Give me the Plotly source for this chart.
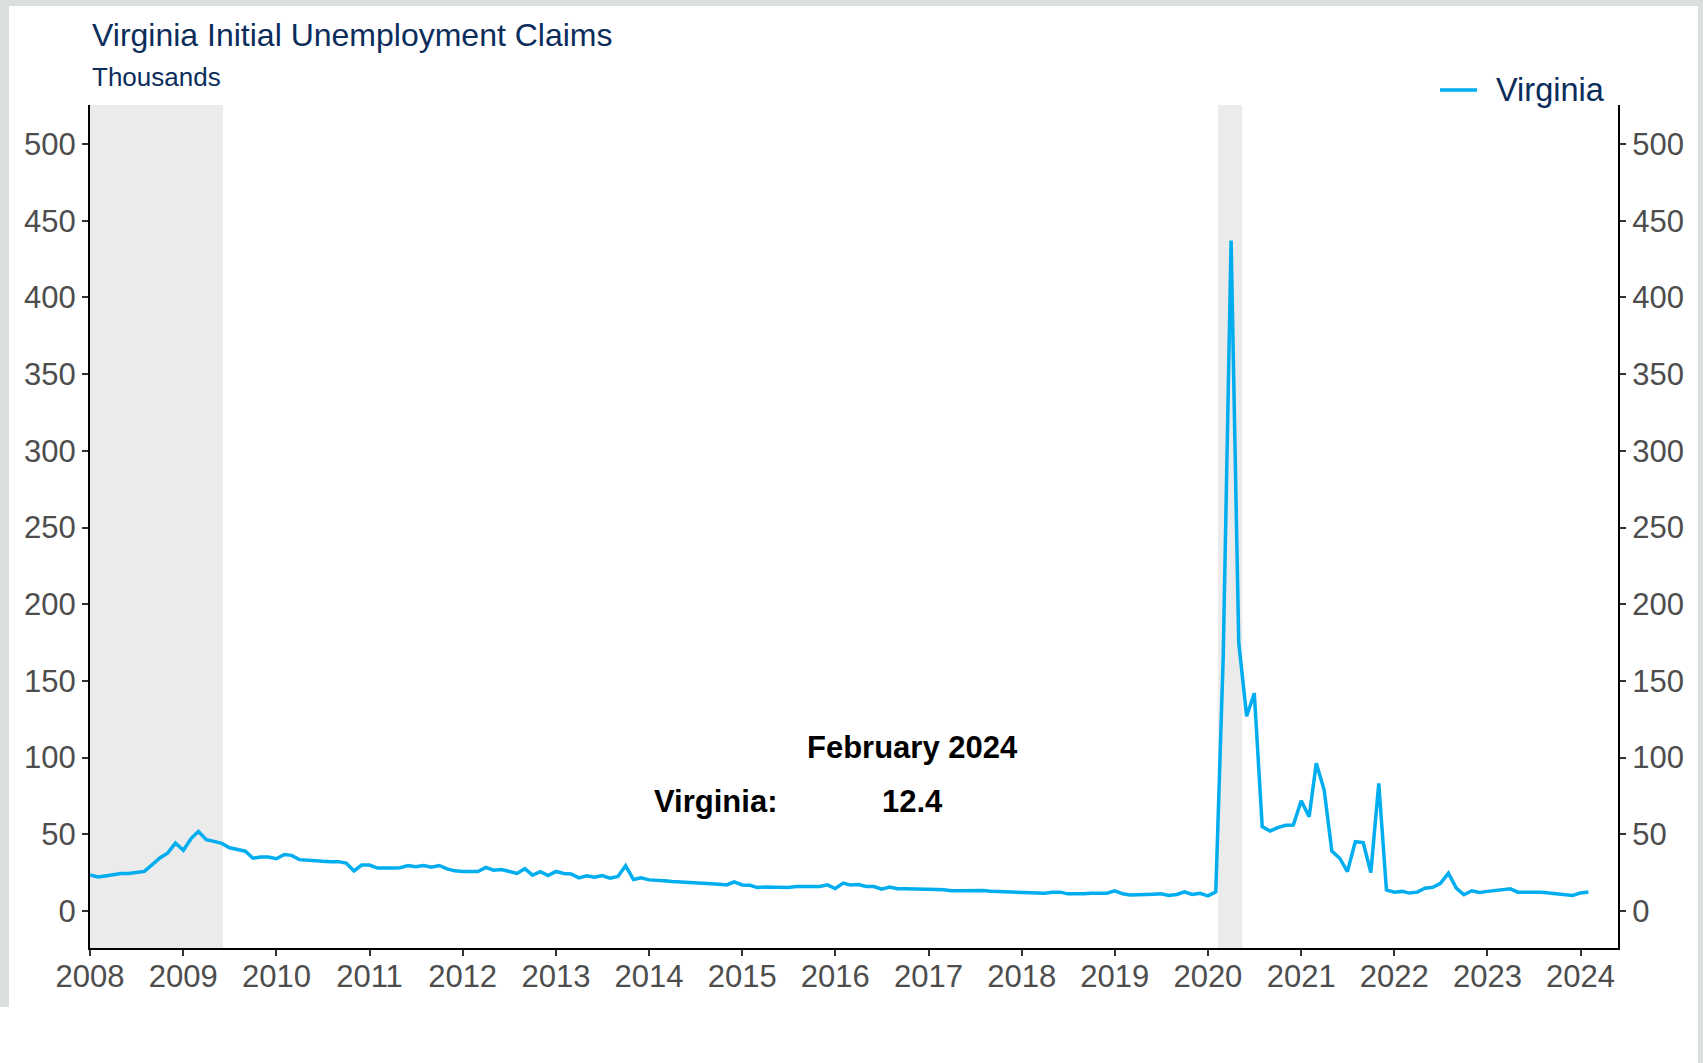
import pandas as pd
import plotly.graph_objects as go

# monthly initial claims, thousands (Jan 2008 - Feb 2024)
dates = pd.date_range("2008-01-01", periods=194, freq="MS")
virginia = [
    23.6, 22.2, 22.9, 23.8, 24.4, 24.4, 24.9, 25.8, 30.2, 34.6, 37.9, 44.3,   # 2008
    39.6, 47.4, 51.8, 46.5, 45.4, 44.1, 41.2, 39.9, 39.0, 34.4, 35.2, 35.2,   # 2009
    34.1, 36.8, 36.3, 33.5, 33.0, 32.8, 32.4, 32.2, 32.2, 31.3, 26.2, 30.0,   # 2010
    30.0, 28.0, 27.8, 28.0, 28.2, 29.7, 28.8, 29.7, 28.6, 29.7, 27.5, 26.2,   # 2011
    25.8, 25.8, 25.8, 28.4, 26.6, 27.1, 25.8, 24.5, 27.6, 23.4, 25.6, 23.1,   # 2012
    25.8, 24.5, 24.2, 21.6, 22.9, 22.0, 23.1, 21.4, 22.5, 29.5, 20.5, 21.6,   # 2013
    20.3, 19.7, 19.7, 19.2, 19.0, 18.8, 18.3, 18.1, 17.7, 17.4, 17.0, 19.0,   # 2014
    17.0, 16.8, 15.3, 15.7, 15.5, 15.3, 15.3, 16.0, 16.0, 16.0, 16.0, 17.1,   # 2015
    14.7, 18.2, 16.9, 17.3, 16.0, 16.0, 14.2, 15.6, 14.5, 14.5, 14.5, 14.2,   # 2016
    14.0, 14.0, 13.8, 13.2, 13.2, 13.2, 13.6, 13.4, 12.9, 12.7, 12.7, 12.5,   # 2017
    12.0, 11.6, 11.6, 11.6, 12.3, 12.3, 11.2, 11.0, 11.2, 11.6, 11.6, 11.6,   # 2018
    13.2, 11.2, 10.5, 10.5, 10.5, 11.0, 11.2, 10.1, 10.8, 12.5, 10.8, 11.6,   # 2019
    9.9, 12.5, 165.0, 437.0, 175.0, 127.0, 142.0, 55.0, 52.2, 54.4, 55.9, 56.1,  # 2020
    71.9, 61.5, 96.3, 78.9, 39.1, 34.4, 25.7, 45.2, 44.6, 25.1, 83.2, 13.8,   # 2021
    12.3, 12.8, 11.7, 12.3, 14.9, 15.5, 18.1, 24.7, 14.9, 10.6, 13.2, 12.1,   # 2022
    12.8, 13.4, 13.8, 14.5, 12.3, 12.1, 12.3, 12.3, 11.7, 11.2, 10.6, 10.2,   # 2023
    11.8, 12.4,                                                               # 2024
]

# recession bands
rec_start = ["2007-12-01", "2020-02-10"]
rec_end = ["2009-06-05", "2020-05-15"]

y_ticks = list(range(0, 501, 50))

LINE = "#00ADEF"
NAVY = "#0B2D5B"
TICK = "#4D4D4D"
FONT = "Liberation Sans, Arial, sans-serif"
BORDER = "#D9DEDE"

fig = go.Figure()

fig.add_trace(go.Scatter(
    x=dates, y=virginia, mode="lines", name="Virginia",
    line=dict(color=LINE, width=3.5), showlegend=False
))
# invisible copy so the right-hand axis gets drawn
fig.add_trace(go.Scatter(
    x=dates, y=virginia, mode="lines", yaxis="y2",
    line=dict(color="rgba(0,0,0,0)", width=0),
    showlegend=False, hoverinfo="skip"
))

for x0, x1 in zip(rec_start, rec_end):
    fig.add_shape(type="rect", xref="x", yref="paper", x0=x0, x1=x1, y0=0, y1=1,
                  fillcolor="#EBEBEB", line_width=0, layer="below")

# page frame
W, H = 1703, 1063
L, R, T, B = 90, 85, 105, 115
pw, ph = W - L - R, H - T - B
def px(x):
    return (x - L) / pw
def py(y):
    return (H - B - y) / ph

for x0, x1, y0, y1 in [(0, W, 0, 6), (0, 9, 0, 1007), (1698, W, 0, H)]:
    fig.add_shape(type="rect", xref="paper", yref="paper",
                  x0=px(x0), x1=px(x1), y0=py(y1), y1=py(y0),
                  fillcolor=BORDER, line_width=0, layer="below")

# legend drawn by hand (longer key than plotly's)
fig.add_shape(type="line", xref="paper", yref="paper",
              x0=px(1440), x1=px(1477), y0=py(90), y1=py(90),
              line=dict(color=LINE, width=3.5))
fig.add_annotation(xref="paper", yref="paper", x=px(1494), y=py(90), xanchor="left", yanchor="middle",
                   text="Virginia", showarrow=False,
                   font=dict(family=FONT, size=32.5, color=NAVY))

axis_common = dict(
    showgrid=False, zeroline=False, showline=True, linecolor="black", linewidth=2,
    ticks="outside", ticklen=6, tickwidth=1.5, tickcolor="#333333",
    tickfont=dict(family=FONT, size=31, color=TICK),
)

fig.update_layout(
    width=W, height=H,
    margin=dict(l=L, r=R, t=T, b=B),
    paper_bgcolor="white", plot_bgcolor="white",
    font=dict(family=FONT),
    showlegend=False,
    xaxis=dict(axis_common, type="date", range=["2008-01-01", "2024-05-27"],
               tick0="2008-01-01", dtick="M12", tickformat="%Y", ticklabelstandoff=-6),
    yaxis=dict(axis_common, range=[-24.1, 525.4], tickvals=y_ticks),
    yaxis2=dict(axis_common, range=[-24.1, 525.4], tickvals=y_ticks,
                overlaying="y", side="right"),
)

fig.add_annotation(xref="paper", yref="paper", x=0, y=py(35), xanchor="left", yanchor="middle",
                   text="Virginia Initial Unemployment Claims", showarrow=False,
                   font=dict(family=FONT, size=32, color=NAVY))
fig.add_annotation(xref="paper", yref="paper", x=0, y=py(77), xanchor="left", yanchor="middle",
                   text="Thousands", showarrow=False,
                   font=dict(family=FONT, size=26, color=NAVY))

bold = dict(family=FONT, size=31, color="black")
fig.add_annotation(xref="paper", yref="paper", x=px(912), y=py(747), xanchor="center", yanchor="middle",
                   text="<b>%s</b>" % dates[-1].strftime("%B %Y"), showarrow=False, font=bold)
fig.add_annotation(xref="paper", yref="paper", x=px(652), y=py(801), xanchor="left", yanchor="middle",
                   text="<b>Virginia:</b>", showarrow=False, font=bold)
fig.add_annotation(xref="paper", yref="paper", x=px(912), y=py(801), xanchor="center", yanchor="middle",
                   text="<b>%.1f</b>" % virginia[-1], showarrow=False, font=bold)

fig.write_html("out.html", config={"displayModeBar": False},
               post_script="document.body.style.margin='0';document.body.style.overflow='hidden';")
